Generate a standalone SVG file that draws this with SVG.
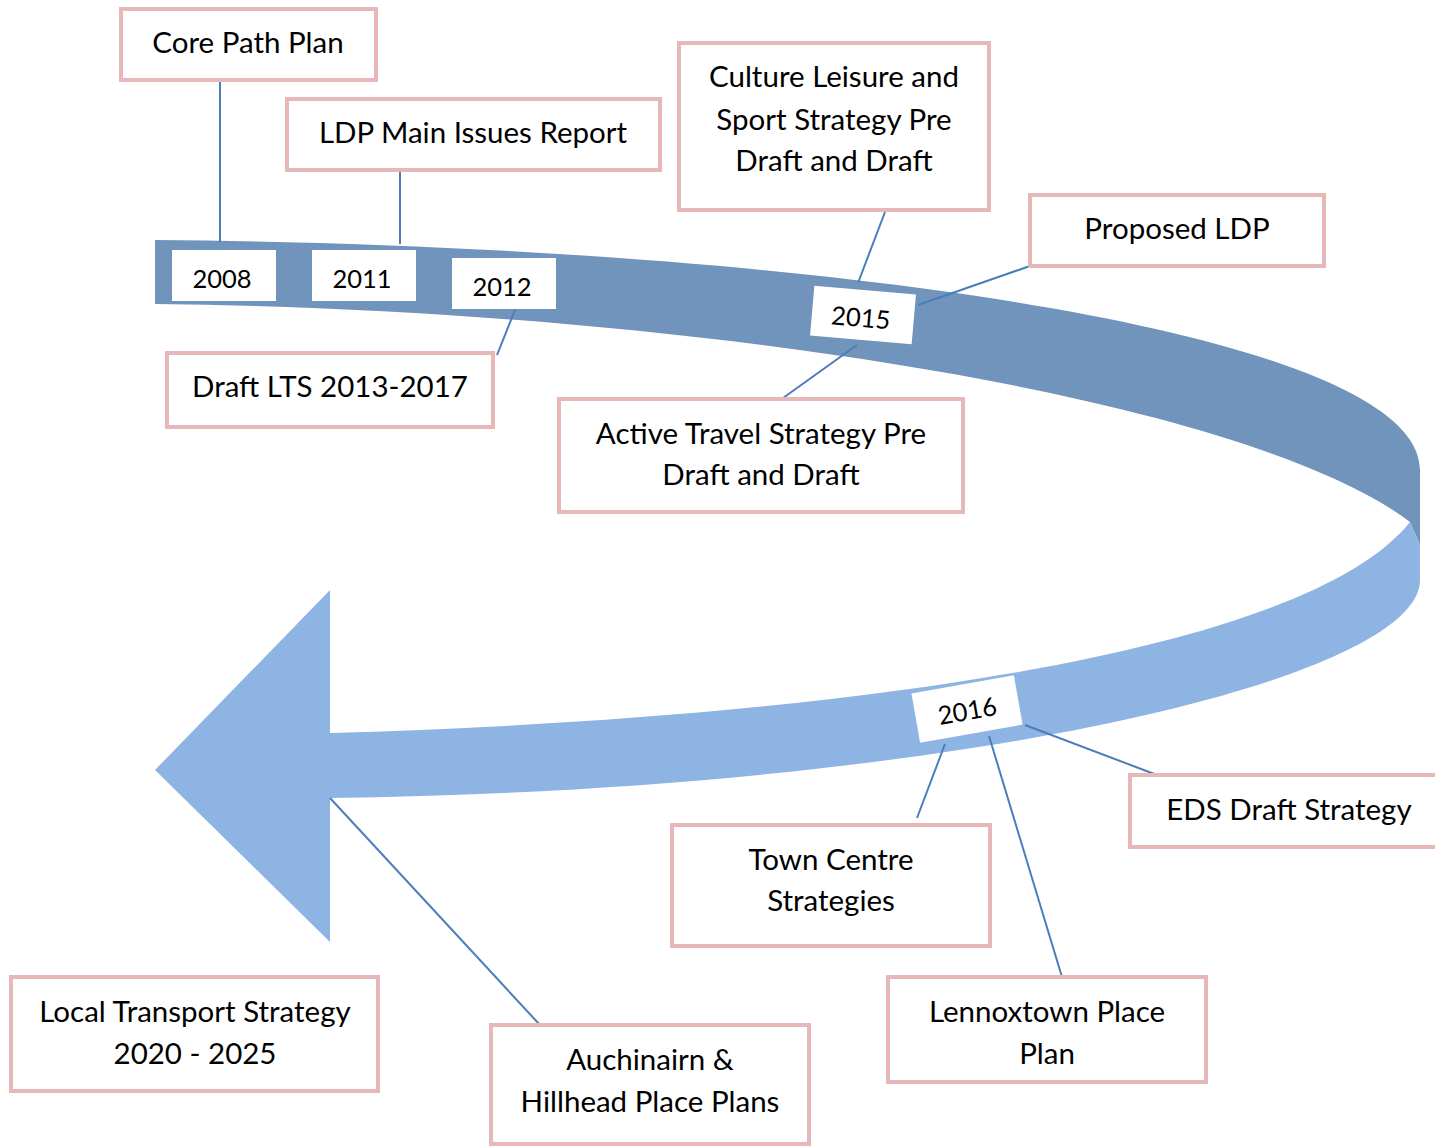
<svg xmlns="http://www.w3.org/2000/svg" width="1435" height="1146" viewBox="0 0 1435 1146">
<style>
.box{fill:#fff;stroke:#e6b9b8;stroke-width:4}
.yr{fill:#fff}
.t{font-family:Lato,"Open Sans",sans-serif;font-size:29.5px;fill:#000;text-anchor:middle}
.y{font-family:Lato,"Open Sans",sans-serif;font-size:25.5px;fill:#000;text-anchor:middle}
.c{stroke:#4a7ebb;stroke-width:2;fill:none}
</style>
<g id="band">
<path d="M155,240 C800,245 1420,330 1420,470 L1420,545 L1410,522 C1250,400 700,310 155,304 Z" fill="#7094bb"/>
<path d="M1410,522 C1300,660 800,720 330,733 L330,590 L155,770 L330,942 L330,798 C950,790 1420,680 1420,580 L1420,545 Z" fill="#8eb4e3"/>
</g>
<g id="connectors">
<line class="c" x1="220" y1="82" x2="220" y2="242"/>
<line class="c" x1="400" y1="172" x2="400" y2="244"/>
<line class="c" x1="515" y1="310" x2="497" y2="355"/>
<line class="c" x1="885" y1="212" x2="858" y2="283"/>
<line class="c" x1="918" y1="305" x2="1030" y2="266"/>
<line class="c" x1="857" y1="345" x2="783" y2="398"/>
<line class="c" x1="1025" y1="725" x2="1157" y2="775"/>
<line class="c" x1="945" y1="744" x2="917" y2="818"/>
<line class="c" x1="989" y1="736" x2="1062" y2="977"/>
<line class="c" x1="330" y1="798" x2="540" y2="1025"/>
</g>
<g id="y2008"><rect class="yr" x="172" y="250" width="104" height="51"/><text class="y" x="222" y="288">2008</text></g>
<g id="y2011"><rect class="yr" x="312" y="250" width="104" height="51"/><text class="y" x="362" y="288">2011</text></g>
<g id="y2012"><rect class="yr" x="452" y="258" width="104" height="51"/><text class="y" x="502" y="296">2012</text></g>
<g id="y2015" transform="translate(863,315) rotate(5)"><rect class="yr" x="-51" y="-25" width="102" height="50"/><text class="y" x="-2" y="12">2015</text></g>
<g id="y2016" transform="translate(967,709) rotate(-10)"><rect class="yr" x="-52" y="-25" width="104" height="50"/><text class="y" x="0" y="11">2016</text></g>
<g id="n1"><rect class="box" x="121" y="9" width="255" height="71"/><text class="t" x="248" y="53">Core Path Plan</text></g>
<g id="n2"><rect class="box" x="287" y="99" width="373" height="71"/><text class="t" x="473" y="143">LDP Main Issues Report</text></g>
<g id="n3"><rect class="box" x="679" y="43" width="310" height="167"/><text class="t" x="834" y="87">Culture Leisure and</text><text class="t" x="834" y="130">Sport Strategy Pre</text><text class="t" x="834" y="171">Draft and Draft</text></g>
<g id="n4"><rect class="box" x="1030" y="195" width="294" height="71"/><text class="t" x="1177" y="239">Proposed LDP</text></g>
<g id="n5"><rect class="box" x="167" y="353" width="326" height="74"/><text class="t" x="330" y="397">Draft LTS 2013-2017</text></g>
<g id="n6"><rect class="box" x="559" y="399" width="404" height="113"/><text class="t" x="761" y="444">Active Travel Strategy Pre</text><text class="t" x="761" y="485">Draft and Draft</text></g>
<g id="n7"><rect class="box" x="1130" y="775" width="308" height="72"/><text class="t" x="1289" y="820">EDS Draft Strategy</text></g>
<g id="n8"><rect class="box" x="672" y="825" width="318" height="121"/><text class="t" x="831" y="870">Town Centre</text><text class="t" x="831" y="911">Strategies</text></g>
<g id="n9"><rect class="box" x="888" y="977" width="318" height="105"/><text class="t" x="1047" y="1022">Lennoxtown Place</text><text class="t" x="1047" y="1064">Plan</text></g>
<g id="n10"><rect class="box" x="11" y="977" width="367" height="114"/><text class="t" x="195" y="1022">Local Transport Strategy</text><text class="t" x="195" y="1064">2020 - 2025</text></g>
<g id="n11"><rect class="box" x="491" y="1025" width="318" height="119"/><text class="t" x="650" y="1070">Auchinairn &amp;</text><text class="t" x="650" y="1112">Hillhead Place Plans</text></g>
</svg>
